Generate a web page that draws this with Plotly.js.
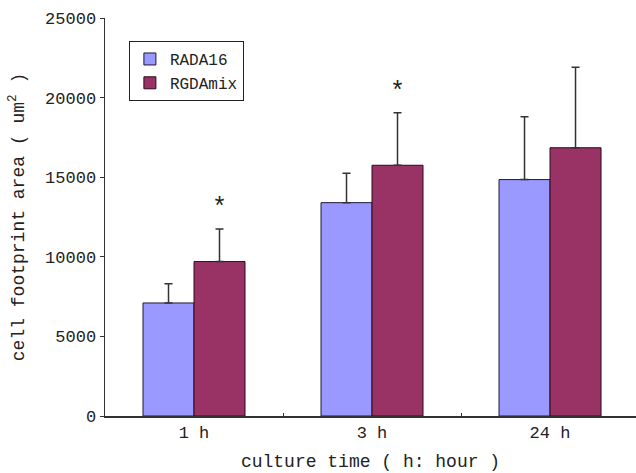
<!DOCTYPE html>
<html>
<head>
<meta charset="utf-8">
<script src="https://cdn.plot.ly/plotly-3.0.1.min.js"></script>
<style>html,body{margin:0;padding:0;background:#fff;}#chart{width:636px;height:473px;}</style>
</head>
<body>
<div id="chart"></div>
<script>
var categories = ["1 h", "3 h", "24 h"];
var rada16 = [7100, 13400, 14850];
var rada16Err = [1200, 1850, 3950];
var rgdamix = [9700, 15750, 16850];
var rgdamixErr = [2050, 3300, 5050];
var starFlags = [true, true, false];
var yTicks = [0, 5000, 10000, 15000, 20000, 25000];

var FONT = "Liberation Mono, DejaVu Sans Mono, monospace";
var zeros = categories.map(function(){return 0;});

var traces = [
  {type: "bar", name: "RADA16", x: categories, y: rada16,
   marker: {color: "#9999FF", line: {color: "#1a1a3a", width: 1}},
   error_y: {type: "data", symmetric: false, array: rada16Err, arrayminus: zeros,
             color: "#333", thickness: 1.5, width: 4}},
  {type: "bar", name: "RGDAmix", x: categories, y: rgdamix,
   marker: {color: "#993366", line: {color: "#2a0a1a", width: 1}},
   error_y: {type: "data", symmetric: false, array: rgdamixErr, arrayminus: zeros,
             color: "#333", thickness: 1.5, width: 4}}
];

var bargap = 0.427;
var barW = (1 - bargap) / 2;
var annotations = [];
categories.forEach(function(c, i){
  if (starFlags[i]) {
    annotations.push({xref: "x", yref: "y", x: i + barW / 2, y: rgdamix[i] + rgdamixErr[i],
      text: "*", showarrow: false, yanchor: "bottom", yshift: 4,
      font: {family: FONT, size: 25, color: "#222"}});
  }
});

var layout = {
  width: 636, height: 473,
  margin: {l: 105, r: 0, t: 18, b: 57},
  paper_bgcolor: "#fff", plot_bgcolor: "#fff",
  barmode: "group", bargap: bargap, bargroupgap: 0,
  showlegend: true,
  legend: {x: 0.045, y: 0.942, xanchor: "left", yanchor: "top",
           bordercolor: "#222", borderwidth: 1, bgcolor: "#fff",
           font: {family: FONT, size: 16, color: "#222"}, tracegroupgap: 4},
  xaxis: {type: "category", range: [-0.5, 2.483], showline: true, linecolor: "#333", linewidth: 1.5,
          ticks: "inside", tickson: "boundaries", ticklen: 3, tickcolor: "#333",
          showgrid: false, zeroline: false,
          tickfont: {family: FONT, size: 17, color: "#222"},
          title: {text: "culture time ( h: hour )", standoff: 12, font: {family: FONT, size: 18, color: "#222"}}},
  yaxis: {range: [0, 25000], tickvals: yTicks, ticktext: yTicks.map(String),
          showline: true, linecolor: "#333", linewidth: 1.5,
          ticks: "outside", ticklen: 4, tickcolor: "#333",
          showgrid: false, zeroline: false,
          tickfont: {family: FONT, size: 17, color: "#222"},
          title: {text: "cell footprint area ( um<sup>2</sup> )", standoff: 16, font: {family: FONT, size: 18, color: "#222"}}},
  annotations: annotations
};

Plotly.newPlot("chart", traces, layout, {displayModeBar: false, staticPlot: true});
</script>
</body>
</html>
